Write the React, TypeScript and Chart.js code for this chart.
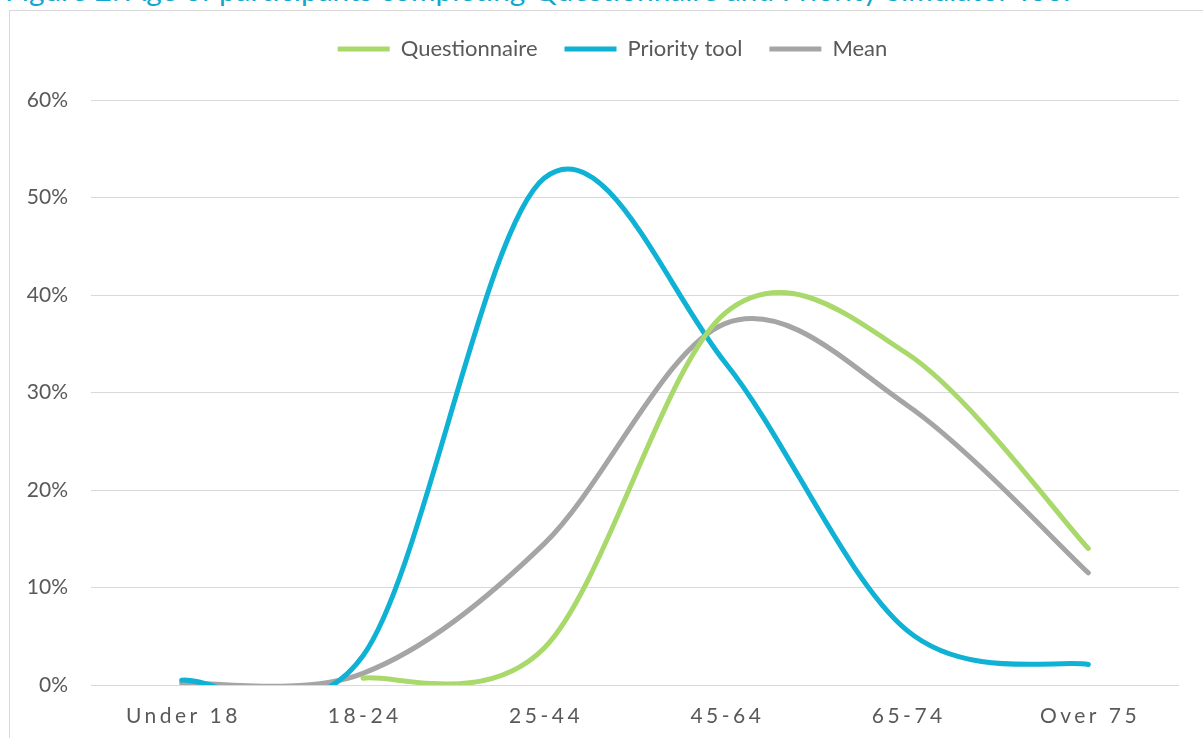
import React, { useEffect, useRef } from "react";
import { Chart, registerables } from "chart.js";

Chart.register(...registerables);

const TITLE = "Figure 2: Age of participants completing Questionnaire and Priority Simulator Tool";
const categories = ["Under 18", "18-24", "25-44", "45-64", "65-74", "Over 75"];
const questionnaire = [null, 0.7, 3.8, 38.2, 34.0, 14.0];
const priorityTool = [0.5, 3.0, 52.0, 33.0, 5.6, 2.1];
const meanValues = [0.2, 1.2, 14.5, 37.1, 28.7, 11.5];
const yTicks = [0, 10, 20, 30, 40, 50, 60];

const FONT = "Lato, 'Open Sans', sans-serif";
const TEXT = "#595959";

// Excel-style smoothed line (Catmull-Rom, 1/6 control points)
const excelSmooth = {
  id: "excelSmooth",
  beforeDatasetDraw(chart: any, args: any) {
    const meta = args.meta;
    const line = meta.dataset;
    if (!line) return;
    line.updateControlPoints(chart.chartArea, "x");
    const pts = meta.data;
    for (let i = 0; i < pts.length; i++) {
      const p = pts[i];
      if (p.skip) continue;
      const prev = i > 0 && !pts[i - 1].skip ? pts[i - 1] : p;
      const next = i < pts.length - 1 && !pts[i + 1].skip ? pts[i + 1] : p;
      const dx = (next.x - prev.x) / 6;
      const dy = (next.y - prev.y) / 6;
      p.cp1x = p.x - dx;
      p.cp1y = p.y - dy;
      p.cp2x = p.x + dx;
      p.cp2y = p.y + dy;
    }
  },
};

// shift the centred legend slightly to the right, as in the reference
const legendShift = {
  id: "legendShift",
  afterLayout(chart: any) {
    const lg = chart.legend;
    if (!lg) return;
    lg.left += 18;
    lg.right += 18;
  },
};

const xLabelPlugin = {
  id: "spacedXLabels",
  afterDraw(chart: any) {
    const ctx = chart.ctx;
    const xs = chart.scales.x;
    ctx.save();
    ctx.font = `21px ${FONT}`;
    ctx.fillStyle = TEXT;
    ctx.textAlign = "center";
    ctx.textBaseline = "middle";
    const sp = 3.5;
    (ctx as any).letterSpacing = `${sp}px`;
    categories.forEach((c, i) => {
      const x = xs.getPixelForValue(i);
      ctx.fillText(c, x + sp / 2, chart.chartArea.bottom + 31);
    });
    ctx.restore();
  },
};

export default function App() {
  const ref = useRef<HTMLCanvasElement>(null);
  useEffect(() => {
    if (!ref.current) return;
    const mk = (label: string, data: any[], color: string) => ({
      label,
      data,
      borderColor: color,
      backgroundColor: color,
      borderWidth: 5,
      borderCapStyle: "round" as const,
      borderJoinStyle: "round" as const,
      pointRadius: 0,
      pointHoverRadius: 0,
      tension: 0.4,
      spanGaps: false,
      fill: false,
    });
    const chart = new Chart(ref.current, {
      type: "line",
      data: {
        labels: categories,
        datasets: [
          mk("Questionnaire", questionnaire, "#A9D86B"),
          mk("Priority tool", priorityTool, "#0FB1D4"),
          mk("Mean", meanValues, "#A5A5A5"),
        ],
      },
      plugins: [excelSmooth, legendShift, xLabelPlugin],
      options: {
        responsive: false,
        animation: false,
        devicePixelRatio: 1,
        layout: { padding: { left: 0, right: 24, top: 0, bottom: 53 } },
        plugins: {
          legend: {
            position: "top",
            labels: {
              font: { family: FONT, size: 22 },
              color: TEXT,
              boxWidth: 52,
              boxHeight: 5,
              padding: 27,
              generateLabels: (c: any) =>
                (Chart.defaults.plugins.legend.labels as any)
                  .generateLabels(c)
                  .map((l: any) => ({ ...l, lineWidth: 0, fillStyle: l.strokeStyle })),
            },
          },
          tooltip: { enabled: false },
        },
        scales: {
          x: {
            offset: true,
            grid: { display: false, drawTicks: false },
            border: { display: false },
            ticks: { display: false },
          },
          y: {
            min: 0,
            max: 63.08,
            afterFit: (s: any) => {
              s.width = 81;
            },
            afterBuildTicks: (s: any) => {
              s.ticks = yTicks.map((v) => ({ value: v }));
            },
            grid: { color: "#D9D9D9", lineWidth: 1, drawTicks: false },
            border: { display: false },
            ticks: {
              color: TEXT,
              font: { family: FONT, size: 21 },
              padding: 23,
              callback: (v: any) => `${v}%`,
            },
          },
        },
      },
    });
    return () => chart.destroy();
  }, []);

  return (
    <div style={{ position: "fixed", left: 0, top: 0, width: "100vw", height: "100vh", overflow: "hidden", background: "#fff" }}>
      <div
        style={{
          position: "absolute",
          left: 5,
          top: -25,
          fontFamily: FONT,
          fontSize: 29.8,
          lineHeight: "30px",
          color: "#12A7CD",
          whiteSpace: "nowrap",
        }}
      >
        {TITLE}
      </div>
      <div
        style={{
          position: "absolute",
          left: 9,
          top: 10,
          width: 1260,
          height: 800,
          border: "1px solid #D9D9D9",
        }}
      />
      <canvas
        ref={ref}
        width={1193}
        height={727}
        style={{ position: "absolute", left: 10, top: 11, width: 1193, height: 727 }}
      />
    </div>
  );
}
